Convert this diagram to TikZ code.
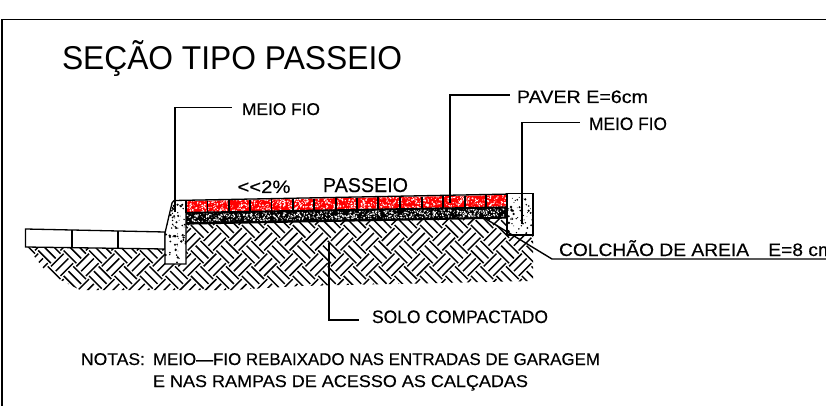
\documentclass[tikz,border=0pt]{standalone}
\usepackage{fontspec}
\setmainfont{Liberation Sans}
\newfontfamily\cadfont[FakeBold=0.35,Ligatures=NoCommon]{Liberation Sans}
\usetikzlibrary{calc}
\newcommand{\cadtext}[3]{\resizebox{#1pt}{\height}{\cadfont\fontsize{#2}{#2}\selectfont #3}}
\newcommand{\speckfill}[7]{% x y w h n colour rmax
  \foreach \sk in {1,...,#5}{%
    \pgfmathsetmacro{\sx}{#1+rnd*#3}%
    \pgfmathsetmacro{\sy}{#2+rnd*#4}%
    \pgfmathsetmacro{\sr}{0.35+rnd*#7}%
    \fill[#6] (\sx,\sy) circle[radius=\sr pt];}%
}
\tikzset{
  cadline/.style={line width=1.3pt,black,line join=miter},
  leader/.style={line width=1.4pt,black},
  hatchline/.style={line width=1.45pt,black},
  lbl/.style={anchor=base west,inner sep=0pt,outer sep=0pt,text=black}
}
\begin{document}
\begin{tikzpicture}[x=1pt,y=-1pt]
\pgfmathsetseed{4217}
\useasboundingbox (0,0) rectangle (826,406);
\fill[white] (0,0) rectangle (826,406);
\draw[line width=1.6pt] (2,406) -- (2,19.5) -- (826,19.5);

% soil hatch (AutoCAD EARTH pattern, turned 45 degrees)
\begin{scope}
\clip (27,247) -- (165,249) -- (186,224) -- (507,218) -- (507,235) -- (533,235) -- (533,281)
   -- (300,286) -- (233,290) -- (80,290) -- (47,273) -- cycle;
\begin{scope}[shift={(0,190)},rotate=45]
\def\tc{18}
\foreach \i in {-6,...,26}{
  \foreach \j in {-3,...,32}{
    \pgfmathsetmacro{\ua}{\i*\tc}
    \pgfmathsetmacro{\va}{\j*\tc}
    \pgfmathsetmacro{\ub}{\ua+\tc}
    \pgfmathsetmacro{\vb}{\va+\tc}
    \pgfmathsetmacro{\pa}{\ua+0.125*\tc}
    \pgfmathsetmacro{\pb}{\ua+0.5*\tc}
    \pgfmathsetmacro{\pc}{\ua+0.875*\tc}
    \pgfmathsetmacro{\qa}{\va-0.125*\tc}
    \pgfmathsetmacro{\qb}{\vb-0.125*\tc}
    \pgfmathsetmacro{\ra}{\va+0.375*\tc}
    \pgfmathsetmacro{\rb}{\va+0.75*\tc}
    \ifodd\numexpr\i+\j+100\relax
      \draw[hatchline] (\pa,\qa) -- (\pa,\qb) (\pb,\qa) -- (\pb,\qb) (\pc,\qa) -- (\pc,\qb);
    \else
      \draw[hatchline] (\ua,\va) -- (\ub,\va) (\ua,\ra) -- (\ub,\ra) (\ua,\rb) -- (\ub,\rb);
    \fi
  }
}
\end{scope}
\end{scope}

% road slabs
\draw[cadline,fill=white] (25.5,229) -- (165,232) -- (165,249) -- (25.5,247) -- cycle;
\draw[cadline] (72,230) -- (72,248) (118,231) -- (118,248.5);

% left curb
\coordinate (lcA) at (174,201);
\fill[white] (165,264) -- (165,233) -- (172,202) -- (174,201) -- (186,201) -- (186,264) -- cycle;
\begin{scope}
\clip (165,264) -- (165,233) -- (172,202) -- (174,201) -- (186,201) -- (186,264) -- cycle;
\speckfill{165}{201}{21}{63}{70}{black}{1.0}
\end{scope}
\draw[cadline] (186,201) -- (186,264) -- (165,264) -- (165,233) -- (172,203) -- (174,200.5);

% sand layer
\fill[black] (186,212.5) -- (507,207) -- (507,218) -- (186,224) -- cycle;
\begin{scope}
\clip (186,214) -- (507,208.5) -- (507,216.5) -- (186,222) -- cycle;
\speckfill{186}{207}{321}{16}{1300}{white}{0.6}
\end{scope}

% pavers
\fill[red] (186,201) -- (507,195) -- (507,207) -- (186,212.5) -- cycle;
\begin{scope}
\clip (186,201) -- (507,195) -- (507,207) -- (186,212.5) -- cycle;
\speckfill{186}{194}{321}{19}{1300}{white}{0.65}
\end{scope}
\draw[cadline] (174,200.5) -- (513,194);
\draw[cadline] (186,212.5) -- (507,207);
\draw[cadline] (186,224) -- (507,218);
\foreach \jx/\jt/\jb in {186/201/212.5,207.5/200.6/212.1,229/200.2/211.7,250/199.8/211.3,271.5/199.4/210.9,293/199/210.6,314/198.6/210.2,336/198.2/209.8,357/197.8/209.4,378/197.4/209,400/197/208.6,422/196.6/208.2,443/196.2/207.8,465/195.8/207.5,486/195.4/207.2}{
  \draw[line width=1.1pt] (\jx,\jt) -- (\jx,\jb);
}

% right curb
\fill[white] (507,193.5) rectangle (533,235);
\begin{scope}
\clip (507,193.5) rectangle (533,235);
\speckfill{507}{193.5}{26}{41.5}{55}{black}{1.0}
\end{scope}
\draw[cadline] (507,193.5) rectangle (533,235);

% labels
\node[lbl] (title) at (62,70) {\resizebox{340pt}{\height}{\fontsize{33}{33}\selectfont SEÇÃO TIPO PASSEIO}};
\node[lbl] (mf1) at (242,115) {\cadtext{78}{17}{MEIO FIO}};
\node[lbl] (paver) at (517,103) {\cadtext{131}{18}{PAVER E=6cm}};
\node[lbl] (mf2) at (589,130) {\cadtext{78}{18}{MEIO FIO}};
\node[lbl] (colchao) at (559,256) {\cadtext{275}{18}{COLCHÃO DE AREIA\hspace{1em}E=8 cm}};
\node[lbl] (slope) at (237.5,193) {\cadtext{53}{18}{{<}{<}2\%}};
\node[lbl] (passeio) at (323,192) {\cadtext{85}{20}{PASSEIO}};
\node[lbl] (solo) at (372,323) {\cadtext{176}{18}{SOLO COMPACTADO}};
\node[lbl] (notas) at (81,365) {\cadtext{64}{17}{NOTAS:}};
\node[lbl] (nota1) at (153,365) {\cadtext{447}{17}{MEIO—FIO REBAIXADO NAS ENTRADAS DE GARAGEM}};
\node[lbl] (nota2) at (153,387) {\cadtext{375}{17}{E NAS RAMPAS DE ACESSO AS CALÇADAS}};

% leaders
\coordinate (t1) at (175,212);
\coordinate (t2) at (450,203);
\coordinate (t3) at (522,224);
\coordinate (t4) at (329,243);
\coordinate (t5) at (481,216);
\coordinate (e5) at (826,259);
\draw[leader] (t1) -- (175,107.5) -- (232,107.5);
\draw[leader] (t2) -- (450,95) -- (510,95);
\draw[leader] (t3) -- (522,122.5) -- (580,122.5);
\draw[leader] (t4) -- (329,320) -- (359,320);
\draw[leader] (t5) -- (552,259) -- (e5);
\end{tikzpicture}
\end{document}
